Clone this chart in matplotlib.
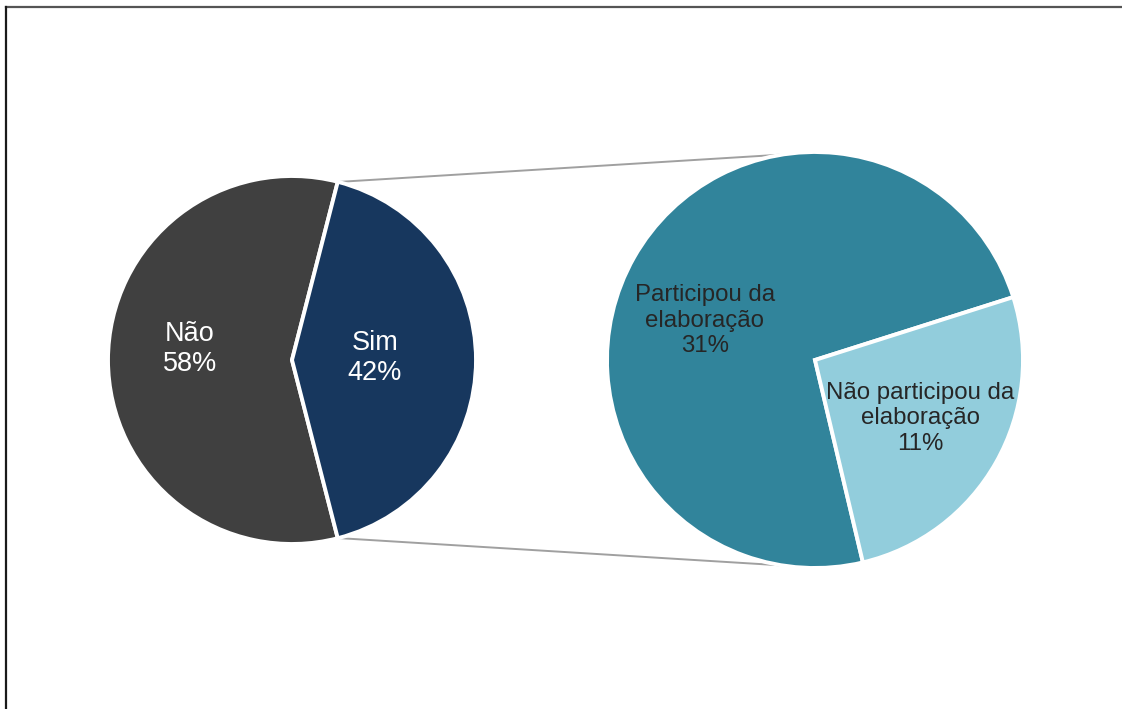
import matplotlib.pyplot as plt
import numpy as np
from matplotlib.lines import Line2D

plt.rcParams['font.family'] = ['Liberation Sans', 'DejaVu Sans']

# main pie: did the municipality take part?
main_labels = ["Não", "Sim"]
main_values = [58, 42]
main_colors = ["#404040", "#17375E"]

# breakdown of the "Sim" slice
sub_labels = ["Participou da\nelaboração", "Não participou da\nelaboração"]
sub_values = [31, 11]
sub_colors = ["#31849B", "#92CDDC"]

W, H = 1122, 709
fig = plt.figure(figsize=(W / 100, H / 100), dpi=100)
ax = fig.add_axes([0, 0, 1, 1])
ax.set_aspect('equal')

c1, r1 = (292, 349), 184
c2, r2 = (815, 349), 208

# left pie, "Sim" slice centred on the right-hand side
sim_span = 360 * main_values[1] / sum(main_values)
start1 = sim_span / 2
w1, _ = ax.pie(main_values, colors=main_colors, startangle=start1,
               center=c1, radius=r1, frame=True,
               wedgeprops=dict(edgecolor='white', linewidth=2.8))

# right pie
start2 = 17.6
w2, _ = ax.pie(sub_values, colors=sub_colors, startangle=start2,
               center=c2, radius=r2, frame=True,
               wedgeprops=dict(edgecolor='white', linewidth=2.8))
ax.set_xlim(0, W)
ax.set_ylim(0, H)
ax.axis('off')

def label_at(wedge, frac, text, color, size, dx=0, dy=0, ls=1.2):
    mid = np.deg2rad((wedge.theta1 + wedge.theta2) / 2)
    cx, cy = wedge.center
    x = cx + frac * wedge.r * np.cos(mid) + dx
    y = cy + frac * wedge.r * np.sin(mid) + dy
    ax.text(x, y, text, ha='center', va='center', color=color,
            fontsize=size, linespacing=ls)

label_at(w1[0], 0.555, f"{main_labels[0]}\n{main_values[0]}%", 'white', 19.5, dy=11)
label_at(w1[1], 0.45, f"{main_labels[1]}\n{main_values[1]}%", 'white', 19.5, dy=2)
label_at(w2[0], 0.57, f"{sub_labels[0]}\n{sub_values[0]}%", '#262626', 17.3, dx=-7, dy=-19)
label_at(w2[1], 0.57, f"{sub_labels[1]}\n{sub_values[1]}%", '#262626', 17.3, dx=2, dy=0)

# connector lines between the "Sim" slice and the right pie
sim = w1[1]
for ang1, ang2 in [(sim.theta2, 99.0), (sim.theta1, -99.0)]:
    a1, a2 = np.deg2rad(ang1), np.deg2rad(ang2)
    x0 = c1[0] + r1 * np.cos(a1) + 3
    y0 = c1[1] + r1 * np.sin(a1)
    x1 = c2[0] + r2 * np.cos(a2)
    y1 = c2[1] + r2 * np.sin(a2)
    ax.plot([x0, x1], [y0, y1], color='#A0A0A0', lw=1.4, zorder=0)

# chart frame (top and left edges)
fig.add_artist(Line2D([6 / W, 1], [1 - 6.5 / H, 1 - 6.5 / H],
                      transform=fig.transFigure, color='#555555', lw=1.6))
fig.add_artist(Line2D([6 / W, 6 / W], [0, 1 - 6.5 / H],
                      transform=fig.transFigure, color='#1a1a1a', lw=1.6))

fig.savefig('out.png', dpi=100, facecolor='white')
